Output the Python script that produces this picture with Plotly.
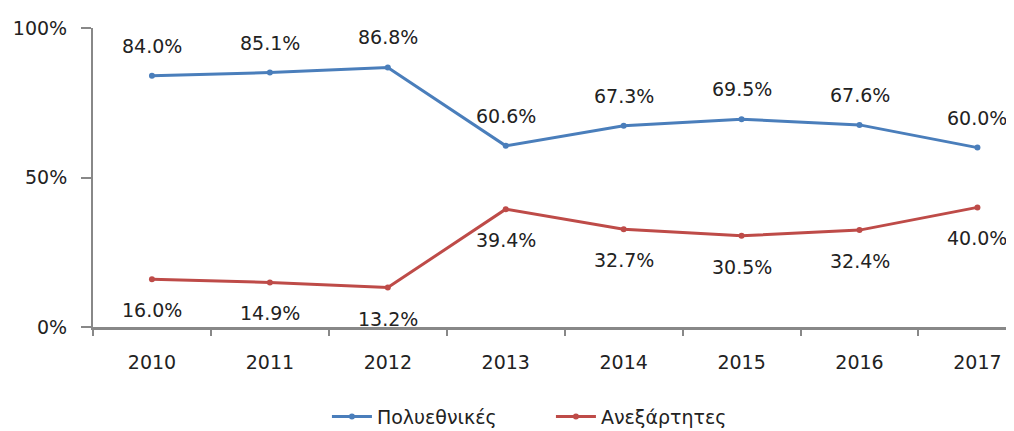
import plotly.graph_objects as go

years = ["2010", "2011", "2012", "2013", "2014", "2015", "2016", "2017"]
multinational = [84.0, 85.1, 86.8, 60.6, 67.3, 69.5, 67.6, 60.0]
independent = [16.0, 14.9, 13.2, 39.4, 32.7, 30.5, 32.4, 40.0]
y_ticks = [0, 50, 100]
y_tick_labels = ["0%", "50%", "100%"]

blue = "#4a7ebb"
red = "#be4b48"
font_family = "DejaVu Sans"

fig = go.Figure()
fig.add_trace(go.Scatter(x=years, y=multinational, name="Πολυεθνικές", mode="lines+markers",
                         line=dict(color=blue, width=3), marker=dict(size=6, color=blue)))
fig.add_trace(go.Scatter(x=years, y=independent, name="Ανεξάρτητες", mode="lines+markers",
                         line=dict(color=red, width=3), marker=dict(size=6, color=red)))

annotations = []
for i, v in enumerate(multinational):
    annotations.append(dict(x=i, y=v, xref="x", yref="y", text=f"{v:.1f}%", showarrow=False,
                            yshift=30, font=dict(size=19, color="#222", family=font_family)))
for i, v in enumerate(independent):
    annotations.append(dict(x=i, y=v, xref="x", yref="y", text=f"{v:.1f}%", showarrow=False,
                            yshift=-31, font=dict(size=19, color="#222", family=font_family)))

fig.update_layout(
    width=1006, height=423,
    margin=dict(l=85, r=0, t=20, b=104, autoexpand=False),
    paper_bgcolor="white", plot_bgcolor="white",
    font=dict(family=font_family, size=19, color="#222"),
    annotations=annotations,
    showlegend=True,
    legend=dict(orientation="h", x=0.254, xanchor="left", y=-0.30, yanchor="middle",
                font=dict(size=19), itemwidth=40, entrywidth=169, entrywidthmode="pixels",
                traceorder="normal"),
    xaxis=dict(type="category", range=[-0.5, 7.31], showgrid=False, showline=True,
               linecolor="#888", linewidth=3, ticks="outside", tickson="boundaries",
               ticklen=6, tickwidth=2, tickcolor="#888", tickfont=dict(size=19),
               ticklabelstandoff=16, automargin=False),
    yaxis=dict(range=[0, 100], tickvals=y_ticks, ticktext=y_tick_labels, showgrid=False,
               zeroline=False, showline=True, linecolor="#888", linewidth=2,
               ticks="outside", ticklen=10, tickwidth=2, tickcolor="#888",
               tickfont=dict(size=19), ticklabelstandoff=10, automargin=False),
)

fig.write_html("out.html")
